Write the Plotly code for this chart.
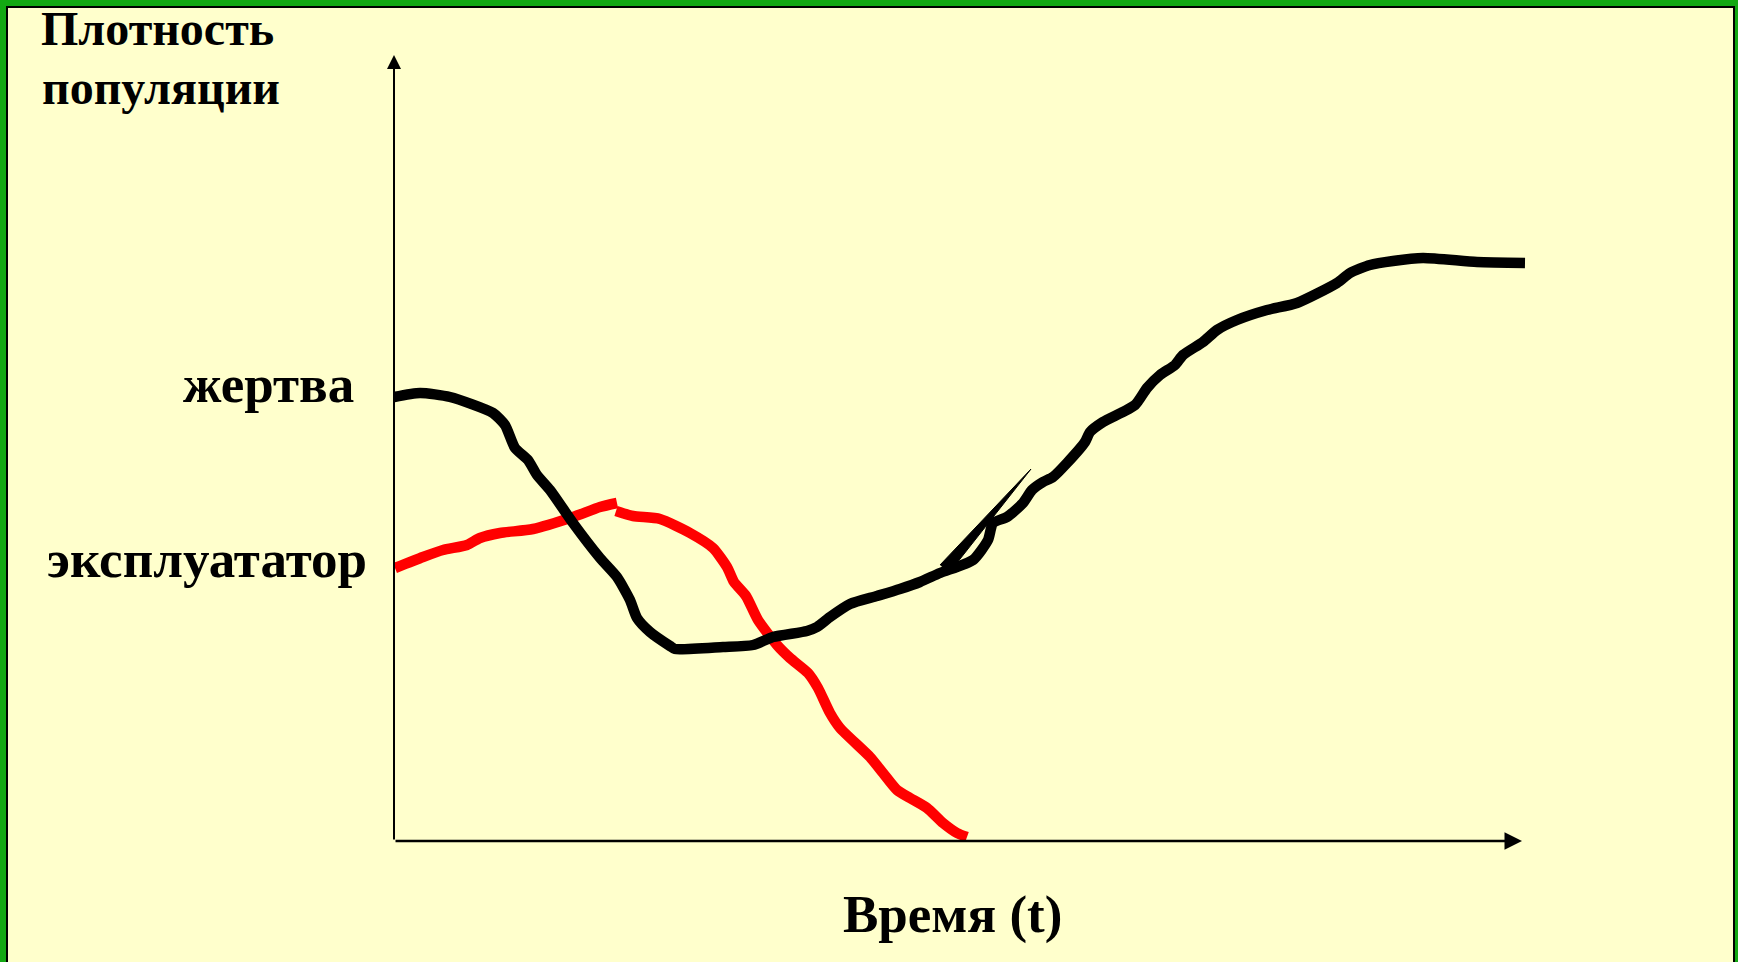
import plotly.graph_objects as go

# Prey (жертва) population density over time (arbitrary units)
black_t = [0, 2.6, 5.6, 9.9, 11.1, 12.1, 13.4, 14.3, 15.6, 17.9, 20.6, 22.3, 23.6, 24.3, 25.6,
           27.6, 28.1, 32.9, 35.9, 37.9, 41.3, 42.3, 43.6, 45.6, 48.3, 50.6, 52.6, 54.6, 57.9,
           59.4, 59.9, 61.3, 62.9, 63.8, 64.9, 65.9, 67.3, 69.1, 69.6, 70.9, 74.1, 75.3, 76.6,
           78.1, 78.9, 80.9, 82.3, 84.3, 87.3, 90.3, 94.3, 95.6, 97.6, 99.9, 102.9, 108.3, 113.1]
black_d = [44.4, 44.8, 44.4, 42.8, 41.6, 39.3, 38.1, 36.6, 35.1, 31.8, 28.3, 26.4, 24.1, 22.3, 20.9,
           19.5, 19.2, 19.4, 19.6, 20.4, 21.0, 21.4, 22.4, 23.7, 24.5, 25.2, 25.9, 26.8, 28.1,
           30.1, 31.8, 32.4, 33.8, 35.1, 35.9, 36.4, 37.8, 39.9, 40.9, 41.9, 43.6, 45.3, 46.6,
           47.6, 48.6, 49.9, 51.1, 52.1, 53.1, 53.8, 55.8, 56.8, 57.6, 58.0, 58.3, 57.9, 57.8]

# stray wedge-shaped stroke on the prey curve
spike_t = [54.6, 63.7, 55.5]
spike_d = [27.6, 37.2, 26.8]

# Exploiter (эксплуататор) population density, two pieces
red_t1 = [0.1, 2.9, 4.9, 7.3, 8.6, 10.6, 13.9, 17.9, 20.6, 22.3]
red_d1 = [27.3, 28.4, 29.1, 29.6, 30.3, 30.8, 31.2, 32.4, 33.4, 33.8]
red_t2 = [22.2, 23.9, 26.6, 29.6, 31.9, 33.3, 34.0, 35.2, 36.4, 38.3, 39.6, 41.4, 42.4, 43.6,
          44.6, 47.6, 48.9, 50.3, 51.6, 53.3, 54.9, 56.3, 57.3]
red_d2 = [33.0, 32.5, 32.2, 30.8, 29.3, 27.4, 25.9, 24.5, 22.1, 19.6, 18.3, 16.8, 15.3, 12.8,
          11.3, 8.4, 6.8, 5.1, 4.3, 3.3, 1.8, 0.8, 0.4]

axis_t_max = 112.8
axis_d_max = 78.6

title_lines = ["Плотность", "популяции"]
label_prey = "жертва"
label_pred = "эксплуататор"
label_x = "Время (t)"

W, H = 1738, 962
BG = "#FFFFCC"
GREEN = "#13a813"
FONT = "Liberation Serif, Times New Roman, serif"

fig = go.Figure()

line_kw = dict(shape="spline", smoothing=0.6, width=10.5)
fig.add_trace(go.Scatter(x=red_t1, y=red_d1, mode="lines",
                         line=dict(color="#FF0000", **line_kw), hoverinfo="skip"))
fig.add_trace(go.Scatter(x=red_t2, y=red_d2, mode="lines",
                         line=dict(color="#FF0000", **line_kw), hoverinfo="skip"))
fig.add_trace(go.Scatter(x=black_t, y=black_d, mode="lines",
                         line=dict(color="#000000", **line_kw), hoverinfo="skip"))
fig.add_trace(go.Scatter(x=spike_t, y=spike_d, mode="lines", fill="toself",
                         fillcolor="#000000", line=dict(color="#000000", width=1),
                         hoverinfo="skip"))

annotations = []
# axes arrows
annotations.append(dict(x=axis_t_max, y=0, ax=0, ay=0, xref="x", yref="y", axref="x", ayref="y",
                        text="", showarrow=True, arrowhead=2, arrowsize=1.4, arrowwidth=2.5,
                        arrowcolor="#000000", standoff=0))
annotations.append(dict(x=0, y=axis_d_max, ax=0, ay=0, xref="x", yref="y", axref="x", ayref="y",
                        text="", showarrow=True, arrowhead=2, arrowsize=1.4, arrowwidth=2,
                        arrowcolor="#000000", standoff=0))


def px_ann(text, x_px, yc_px, size, anchor="left"):
    return dict(text=f"<b>{text}</b>", x=x_px / W, y=1 - yc_px / H, xref="paper", yref="paper",
                xanchor=anchor, yanchor="middle", showarrow=False,
                font=dict(family=FONT, size=size, color="#000000"))


annotations.append(px_ann(title_lines[0], 39, 29, 48))
annotations.append(px_ann(title_lines[1], 40, 87, 48))
annotations.append(px_ann(label_prey, 181, 384, 53))
annotations.append(px_ann(label_pred, 45, 559, 53))
annotations.append(px_ann(label_x, 841, 914, 53))

shapes = [
    # green frame (top, left, right)
    dict(type="rect", xref="paper", yref="paper", x0=0, x1=1, y0=1 - 6 / H, y1=1,
         fillcolor=GREEN, line=dict(width=0), layer="above"),
    dict(type="rect", xref="paper", yref="paper", x0=0, x1=6 / W, y0=0, y1=1,
         fillcolor=GREEN, line=dict(width=0), layer="above"),
    dict(type="rect", xref="paper", yref="paper", x0=1 - 3 / W, x1=1, y0=0, y1=1,
         fillcolor=GREEN, line=dict(width=0), layer="above"),
    # inner black rules
    dict(type="rect", xref="paper", yref="paper", x0=6 / W, x1=1 - 3 / W, y0=1 - 8 / H, y1=1 - 6 / H,
         fillcolor="#000000", line=dict(width=0), layer="above"),
    dict(type="rect", xref="paper", yref="paper", x0=6 / W, x1=8 / W, y0=0, y1=1 - 6 / H,
         fillcolor="#000000", line=dict(width=0), layer="above"),
    dict(type="rect", xref="paper", yref="paper", x0=1 - 5 / W, x1=1 - 3 / W, y0=0, y1=1 - 6 / H,
         fillcolor="#000000", line=dict(width=0), layer="above"),
]

fig.update_layout(
    width=W, height=H,
    margin=dict(l=0, r=0, t=0, b=0, pad=0),
    paper_bgcolor=BG, plot_bgcolor=BG,
    showlegend=False,
    xaxis=dict(range=[-39.4, 134.4], visible=False, fixedrange=True),
    yaxis=dict(range=[-12.1, 84.1], visible=False, fixedrange=True),
    annotations=annotations,
    shapes=shapes,
)

fig.write_html("out.html", config={"displayModeBar": False},
               post_script="document.body.style.margin='0';document.body.style.overflow='hidden';")
